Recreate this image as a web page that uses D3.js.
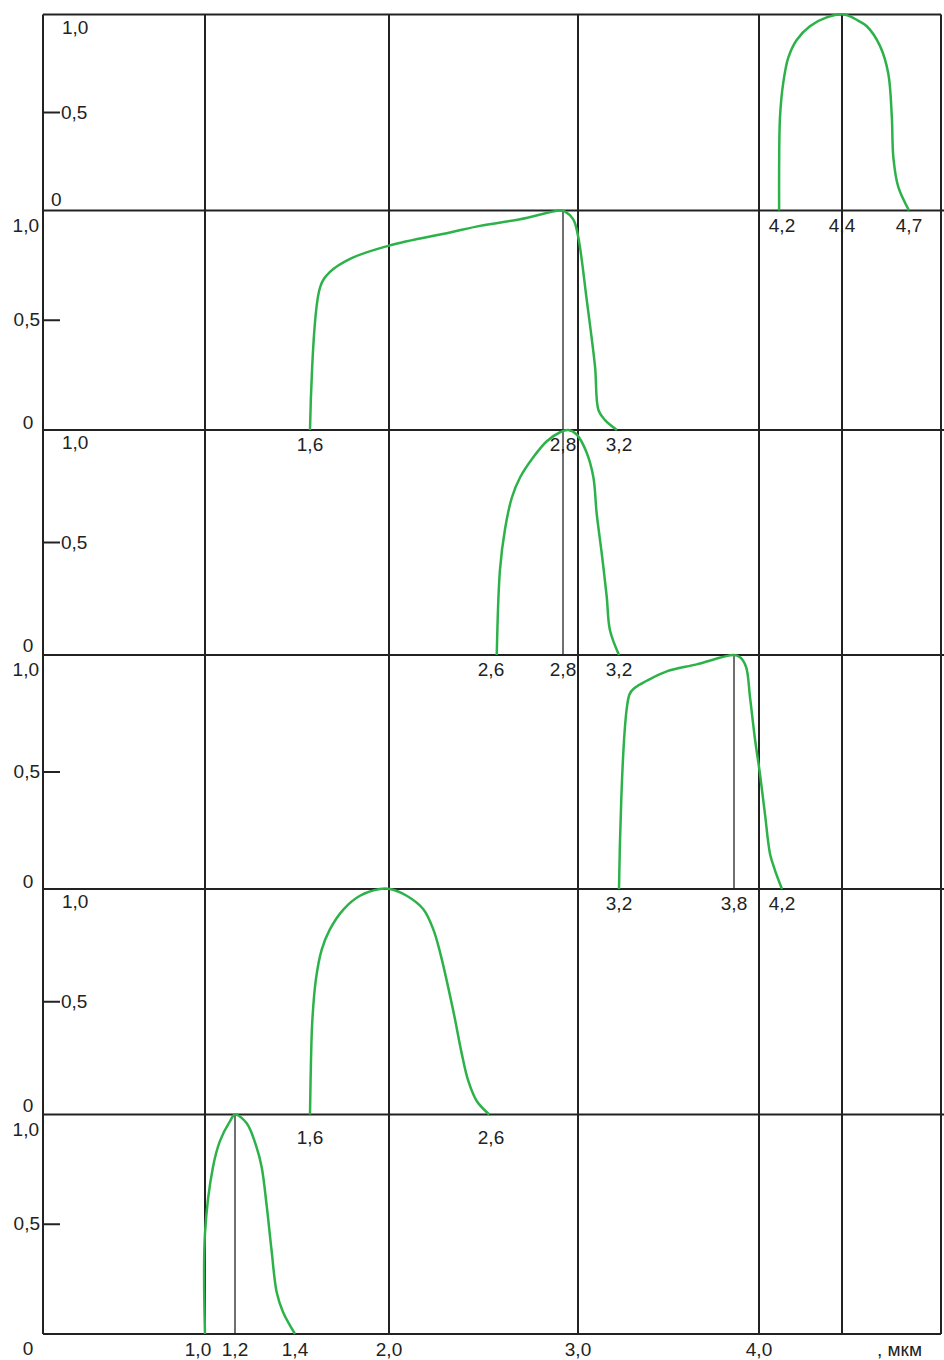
<!DOCTYPE html>
<html>
<head>
<meta charset="utf-8">
<script src="https://cdn.jsdelivr.net/npm/d3@7"></script>
<style>
  body { margin: 0; background: #fff; }
  svg { display: block; font-family: "Liberation Sans", Arial, sans-serif; }
</style>
</head>
<body>
<div id="main"></div>
<script>
// wavelength axis, mkm (hand drawn, so spacing is not uniform)
const X_BREAKS = [0, 1.0, 1.2, 1.4, 1.6, 2.0, 2.6, 2.8, 3.0, 3.2, 3.8, 4.0, 4.2, 4.4, 4.7, 5.0];
const GRID_X = [1.0, 2.0, 3.0, 4.0, 4.4, 5.0];
const BOTTOM_TICKS = [1.0, 1.2, 1.4, 2.0, 3.0, 4.0];
const UNIT = ", мкм";

// spectral bands, top panel first: [wavelength, relative value]
const band44 = [[4.175,0],[4.175,0.22],[4.183,0.48],[4.204,0.65],[4.221,0.78],[4.249,0.87],[4.293,0.94],
  [4.349,0.985],[4.41,1.0],[4.47,0.97],[4.511,0.94],[4.57,0.84],[4.607,0.70],[4.623,0.48],[4.63,0.27],[4.652,0.12],[4.7,0]];
const band28a = [[1.6,0],[1.651,0.65],[1.701,0.72],[1.803,0.78],[2.0,0.84],[2.359,0.90],[2.535,0.93],[2.681,0.96],
  [2.792,1.0],[2.827,0.995],[2.937,0.96],[3.001,0.88],[3.043,0.59],[3.083,0.29],[3.1,0.09],[3.132,0.045],[3.19,0]];
const band28b = [[2.616,0],[2.625,0.38],[2.639,0.56],[2.658,0.70],[2.681,0.79],[2.718,0.88],[2.755,0.95],[2.792,0.99],
  [2.87,1.0],[2.983,0.98],[3.042,0.90],[3.075,0.79],[3.091,0.63],[3.116,0.45],[3.14,0.26],[3.156,0.11],[3.2,0]];
const band38 = [[3.2,0],[3.254,0.83],[3.283,0.86],[3.345,0.89],[3.449,0.93],[3.605,0.96],[3.8,1.0],[3.848,0.99],
  [3.896,0.95],[3.928,0.82],[3.968,0.64],[4.009,0.49],[4.052,0.32],[4.096,0.15],[4.139,0.08],[4.2,0]];
const band20 = [[1.6,0],[1.605,0.24],[1.612,0.42],[1.63,0.60],[1.659,0.73],[1.70,0.82],[1.77,0.91],[1.853,0.97],
  [1.954,1.0],[2.006,1.0],[2.104,0.97],[2.202,0.91],[2.261,0.82],[2.3,0.72],[2.378,0.46],[2.428,0.27],[2.466,0.15],[2.516,0.06],[2.59,0]];
const band12 = [[1.0,0],[1.0,0.46],[1.053,0.76],[1.10,0.88],[1.167,0.97],[1.2,1.0],[1.239,0.96],[1.272,0.85],
  [1.289,0.76],[1.306,0.58],[1.322,0.38],[1.339,0.19],[1.36,0.10],[1.4,0]];

const BANDS = [band44, band28a, band28b, band38, band20, band12];
const PEAKS = [null, 2.8, 2.8, 3.8, null, 1.2];
const MARKS = [[4.2, 4.4, 4.7], [1.6, 2.8, 3.2], [2.6, 2.8, 3.2], [3.2, 3.8, 4.2], [1.6, 2.6], []];

// layout
const width = 944, height = 1360;
const X_PIXELS = [43, 205, 235, 295, 310, 389, 491, 563, 578, 619, 734, 759, 782, 842, 909, 941];
const EDGES = [14.5, 210.5, 430, 655, 889, 1114.5, 1334];
const INSIDE = [true, false, true, false, true, false];
const MARK_DY = [21, 21, 21, 21, 29, 0];
const ink = "#222", green = "#2db24a", fontSize = 19;

const fmt = v => d3.format(".1f")(v).replace(".", ",");

const svg = d3.select("#main").append("svg")
  .attr("width", width).attr("height", height);

const x = d3.scaleLinear().domain(X_BREAKS).range(X_PIXELS);
const x0 = x(X_BREAKS[0]), x1 = x(X_BREAKS[X_BREAKS.length - 1]);

const grid = svg.append("g").attr("stroke", ink).attr("stroke-width", 2);

// vertical grid + left axis
grid.selectAll("line.v")
  .data([X_BREAKS[0]].concat(GRID_X))
  .enter().append("line")
  .attr("class", "v")
  .attr("x1", d => x(d)).attr("x2", d => x(d))
  .attr("y1", EDGES[0]).attr("y2", EDGES[EDGES.length - 1]);

// horizontal panel edges
grid.selectAll("line.h")
  .data(EDGES)
  .enter().append("line")
  .attr("class", "h")
  .attr("x1", x0)
  .attr("x2", (d, i) => (i === 0 || i === EDGES.length - 1) ? x1 : width)
  .attr("y1", d => d).attr("y2", d => d);

const line = d3.line().curve(d3.curveCatmullRom.alpha(0.5));

BANDS.forEach((band, i) => {
  const y = d3.scaleLinear().domain([0, 1]).range([EDGES[i + 1], EDGES[i]]);
  const g = svg.append("g");

  // peak marker
  if (PEAKS[i] !== null) {
    g.append("line")
      .attr("x1", x(PEAKS[i])).attr("x2", x(PEAKS[i]))
      .attr("y1", y(0)).attr("y2", y(1))
      .attr("stroke", ink).attr("stroke-width", 1.3);
  }

  g.append("path")
    .attr("d", line.x(d => x(d[0])).y(d => y(d[1]))(band))
    .attr("fill", "none")
    .attr("stroke", green)
    .attr("stroke-width", 2.5);

  // 0.5 tick
  g.append("line")
    .attr("x1", x0).attr("x2", x0 + 17)
    .attr("y1", y(0.5)).attr("y2", y(0.5))
    .attr("stroke", ink).attr("stroke-width", 2);

  const txt = g.append("g").attr("fill", ink).attr("font-size", fontSize);
  if (INSIDE[i]) {
    txt.append("text").attr("x", x0 + 19).attr("y", y(1) + 19).text(fmt(1));
    txt.append("text").attr("x", x0 + 18).attr("y", y(0.5) + 6).text(fmt(0.5));
    if (i === 0) {
      txt.append("text").attr("x", x0 + 8).attr("y", y(0) - 5).text("0");
    } else {
      txt.append("text").attr("x", x0 - 15).attr("y", y(0) - 3)
        .attr("text-anchor", "middle").text("0");
    }
  } else {
    txt.append("text").attr("x", x0 - 4).attr("y", y(1) + 21)
      .attr("text-anchor", "end").text(fmt(1));
    txt.append("text").attr("x", x0 - 3).attr("y", y(0.5) + 6)
      .attr("text-anchor", "end").text(fmt(0.5));
    txt.append("text").attr("x", x0 - 15)
      .attr("y", i === BANDS.length - 1 ? y(0) + 21 : y(0) - 1)
      .attr("text-anchor", "middle").text("0");
  }

  // wavelength marks under each band
  txt.selectAll("text.mark")
    .data(MARKS[i])
    .enter().append("text")
    .attr("class", "mark")
    .attr("x", d => x(d))
    .attr("y", y(0) + MARK_DY[i])
    .attr("text-anchor", "middle")
    .text(fmt);
});

// bottom axis labels
const yBottom = EDGES[EDGES.length - 1];
const axis = svg.append("g").attr("fill", ink).attr("font-size", fontSize);
axis.selectAll("text.tick")
  .data(BOTTOM_TICKS)
  .enter().append("text")
  .attr("class", "tick")
  .attr("x", d => x(d) + (d === 1.0 ? -7 : 0))
  .attr("y", yBottom + 22)
  .attr("text-anchor", "middle")
  .text(fmt);

axis.append("text")
  .attr("x", x(4.4) + 35)
  .attr("y", yBottom + 22)
  .text(UNIT);
</script>
</body>
</html>
